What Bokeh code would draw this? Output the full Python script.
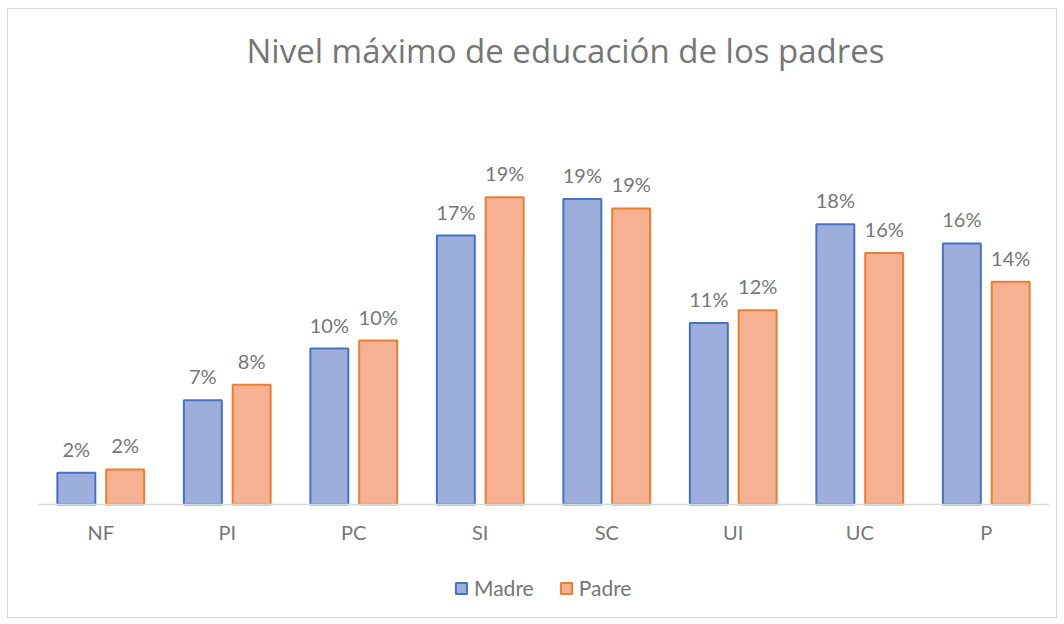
from bokeh.plotting import figure
from bokeh.models import ColumnDataSource, Legend, LegendItem, Range1d, FactorRange, Label
from bokeh.transform import dodge
from bokeh.core.properties import value
from bokeh.embed import file_html
from bokeh.resources import INLINE

categories = ["NF", "PI", "PC", "SI", "SC", "UI", "UC", "P"]
madre = [2.0, 6.55, 9.8, 16.9, 19.2, 11.4, 17.6, 16.4]
padre = [2.2, 7.52, 10.3, 19.3, 18.6, 12.2, 15.8, 14.0]
madre_labels = ["2%", "7%", "10%", "17%", "19%", "11%", "18%", "16%"]
padre_labels = ["2%", "8%", "10%", "19%", "19%", "12%", "16%", "14%"]
title_text = "Nivel máximo de educación de los padres"

FONT = "Lato"
TXT = "#767676"

src = ColumnDataSource(dict(cat=categories, madre=madre, padre=padre,
                            ml=madre_labels, pl=padre_labels))

p = figure(x_range=FactorRange(*categories), y_range=Range1d(-7.1, 31.1),
           frame_width=1012, frame_height=608, output_backend="svg", toolbar_location=None,
           min_border_left=29, min_border_right=7, min_border_top=0, min_border_bottom=0)
p.styles = {"margin": "8px 0 0 7px", "border": "1px solid #D9D9D9"}
p.outline_line_color = None
p.background_fill_color = "white"
p.border_fill_color = "white"
p.x_range.range_padding = 0
p.x_range.group_padding = 0

rm = p.vbar(x=dodge("cat", -0.193, range=p.x_range), top="madre", width=0.30, source=src,
            fill_color="#9DAEDC", line_color="#4472C4", line_width=2)
rp = p.vbar(x=dodge("cat", 0.193, range=p.x_range), top="padre", width=0.30, source=src,
            fill_color="#F5B191", line_color="#ED7D31", line_width=2)

p.text(x=dodge("cat", -0.193, range=p.x_range), y="madre", text="ml", source=src,
       text_align="center", text_baseline="alphabetic", y_offset=-24,
       text_font=value(FONT), text_font_size="20px", text_color=TXT)
p.text(x=dodge("cat", 0.193, range=p.x_range), y="padre", text="pl", source=src,
       text_align="center", text_baseline="alphabetic", y_offset=-24,
       text_font=value(FONT), text_font_size="20px", text_color=TXT)

p.yaxis.visible = False
p.xgrid.grid_line_color = None
p.ygrid.grid_line_color = None
ax = p.xaxis[0]
ax.fixed_location = 0
ax.axis_line_color = "#D9D9D9"
ax.axis_line_width = 1.5
ax.major_tick_line_color = None
ax.minor_tick_line_color = None
ax.major_tick_out = 0
ax.major_label_standoff = 16
ax.major_label_text_font = FONT
ax.major_label_text_font_size = "20px"
ax.major_label_text_color = TXT

title = Label(x=528, y=567, x_units="screen", y_units="screen", text=title_text,
              text_font="Open Sans", text_font_size="33px", text_color=TXT,
              text_align="center", text_baseline="middle")
p.add_layout(title)

legend = Legend(items=[LegendItem(label="Madre", renderers=[rm]),
                       LegendItem(label="Padre", renderers=[rp])],
                orientation="horizontal", location=(417, 17),
                glyph_width=14, glyph_height=14, label_standoff=6, spacing=25,
                label_text_font=FONT, label_text_font_size="21px", label_text_color=TXT,
                border_line_color=None, background_fill_alpha=0, margin=0, padding=4)
p.add_layout(legend)

open("out.html", "w").write(file_html(p, INLINE))
